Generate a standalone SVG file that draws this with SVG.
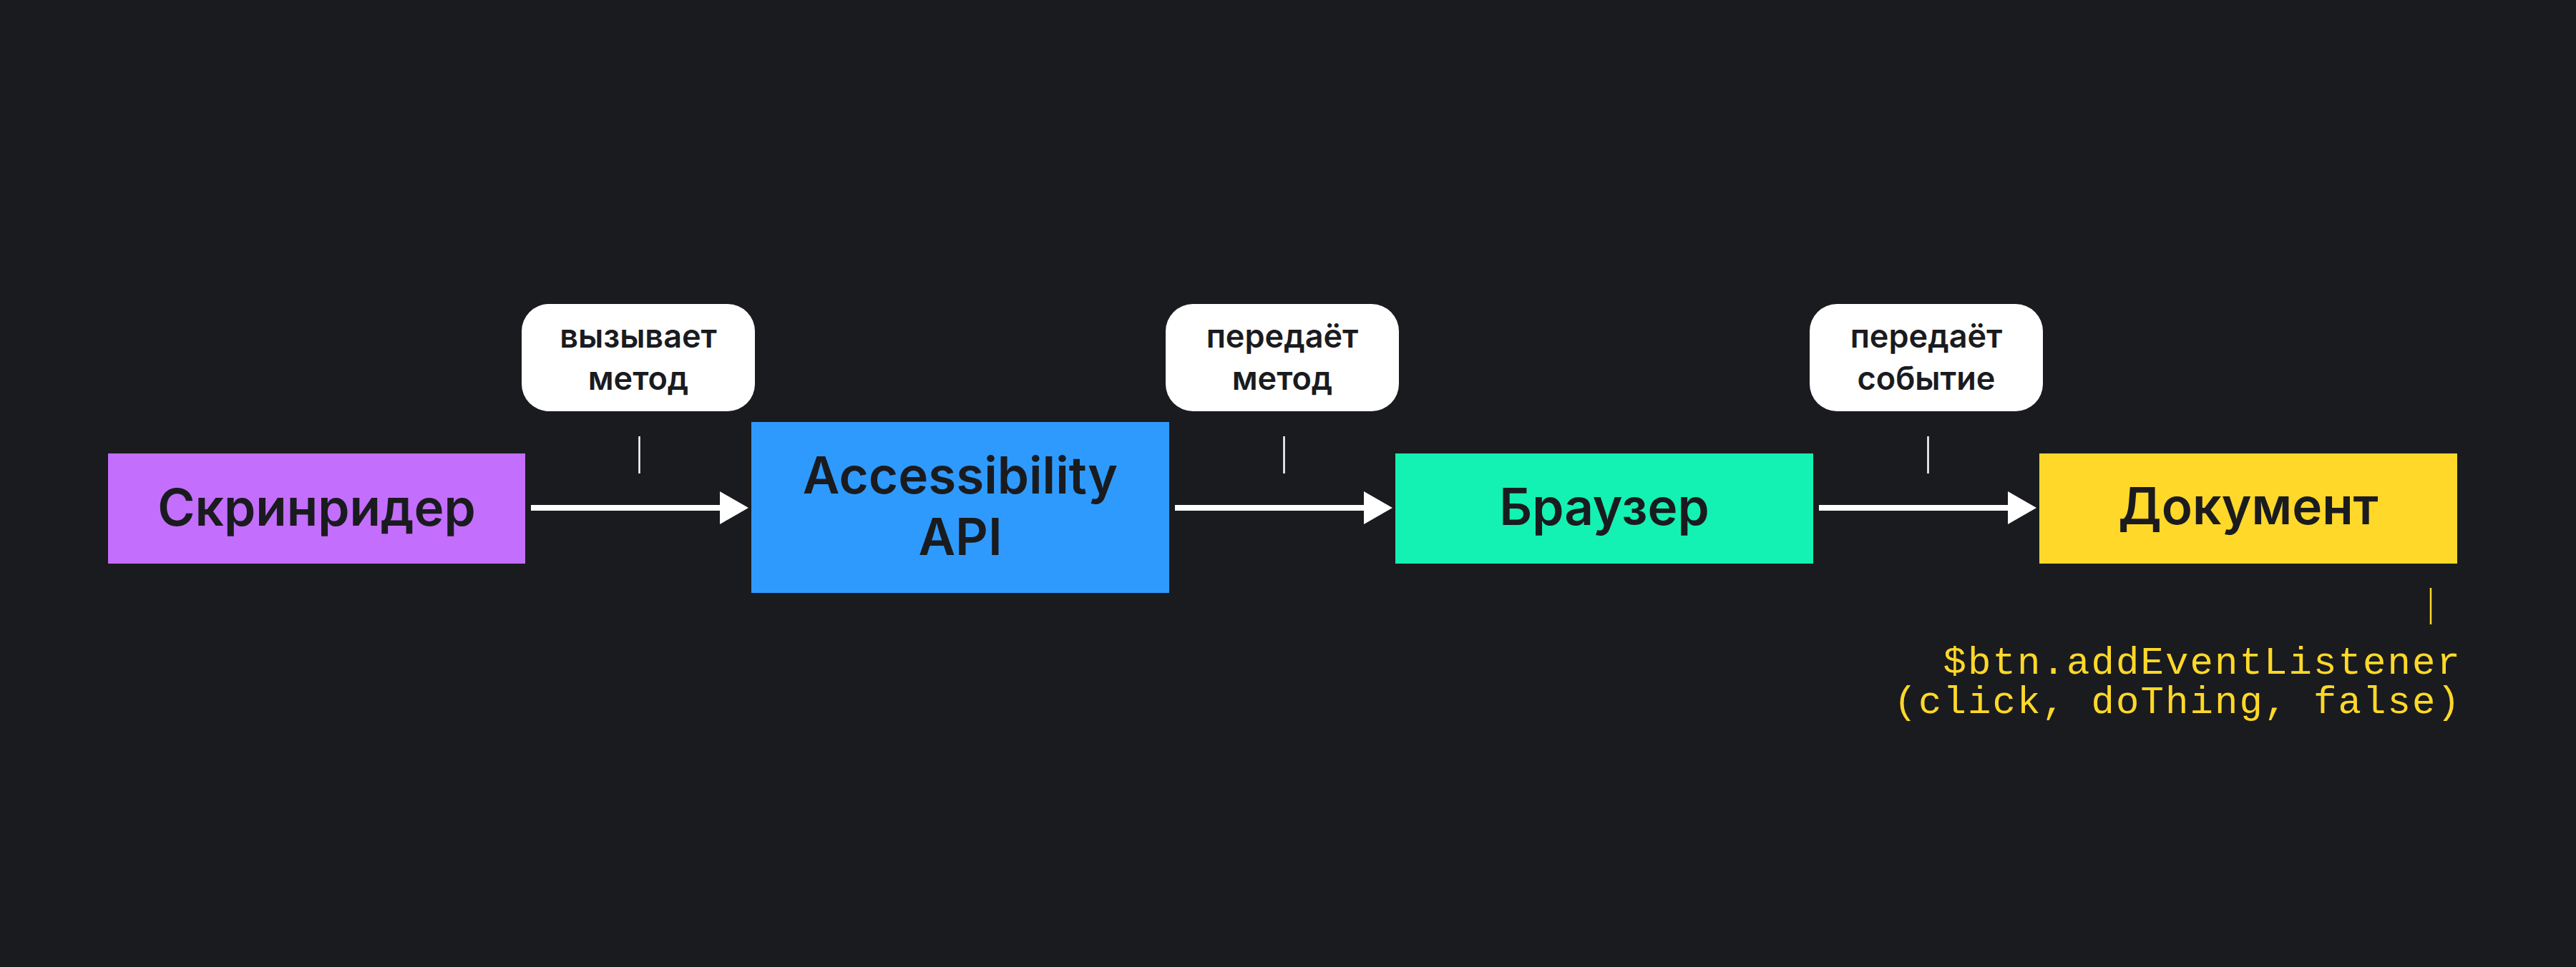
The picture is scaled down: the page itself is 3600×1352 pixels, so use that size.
<svg xmlns="http://www.w3.org/2000/svg" width="3600" height="1352" viewBox="0 0 3600 1352">
<defs>
<style>
.bg{fill:#1a1b1f}
.node text{font-family:Inter,"Noto Sans",sans-serif;font-weight:600;font-size:71px;fill:#1a1b1f;text-anchor:middle}
.lbl rect{fill:#ffffff}
.lbl text{font-family:Inter,"Noto Sans",sans-serif;font-weight:600;font-size:45px;fill:#1a1b1f;text-anchor:middle}
.tick{stroke:#ffffff;stroke-width:2.5}
.shaft{stroke:#ffffff;stroke-width:8}
.head{fill:#ffffff}
.code{font-family:"Liberation Mono","DejaVu Sans Mono",monospace;font-size:54px;letter-spacing:2.1px;fill:#ffd829;text-anchor:end}
</style>
</defs>
<rect class="bg" x="0" y="0" width="3600" height="1352"/>

<g id="connectors">
<line class="shaft" x1="742" y1="710" x2="1008" y2="710"/>
<polygon class="head" points="1006,687 1046,710 1006,733"/>
<line class="shaft" x1="1642" y1="710" x2="1908" y2="710"/>
<polygon class="head" points="1906,687 1946,710 1906,733"/>
<line class="shaft" x1="2542" y1="710" x2="2808" y2="710"/>
<polygon class="head" points="2806,687 2846,710 2806,733"/>
</g>

<g id="label-calls" class="lbl">
<rect x="729" y="425" width="326" height="150" rx="38"/>
<text x="892" y="486">вызывает</text>
<text x="892" y="545">метод</text>
<line class="tick" x1="893.5" y1="610" x2="893.5" y2="662"/>
</g>
<g id="label-passes-method" class="lbl">
<rect x="1629" y="425" width="326" height="150" rx="38"/>
<text x="1792" y="486">передаёт</text>
<text x="1792" y="545">метод</text>
<line class="tick" x1="1794.5" y1="610" x2="1794.5" y2="662"/>
</g>
<g id="label-passes-event" class="lbl">
<rect x="2529" y="425" width="326" height="150" rx="38"/>
<text x="2692" y="486">передаёт</text>
<text x="2692" y="545">событие</text>
<line class="tick" x1="2694.5" y1="610" x2="2694.5" y2="662"/>
</g>

<g id="node-screenreader" class="node">
<rect x="151" y="634" width="583" height="154" fill="#c46efe"/>
<text x="442.5" y="735">Скринридер</text>
</g>
<g id="node-accessibility-api" class="node">
<rect x="1050" y="590" width="584" height="239" fill="#2f9afe"/>
<text x="1342" y="690">Accessibility</text>
<text x="1342" y="776">API</text>
</g>
<g id="node-browser" class="node">
<rect x="1950" y="634" width="584" height="154" fill="#13f2b2"/>
<text x="2242" y="734">Браузер</text>
</g>
<g id="node-document" class="node">
<rect x="2850" y="634" width="584" height="154" fill="#ffd82a"/>
<text x="3142" y="733">Документ</text>
</g>

<g id="code-note">
<line x1="3397" y1="822" x2="3397" y2="873" stroke="#ffd829" stroke-width="2.5"/>
<text class="code" x="3440" y="942">$btn.addEventListener</text>
<text class="code" x="3440" y="997">(click, doThing, false)</text>
</g>
</svg>
